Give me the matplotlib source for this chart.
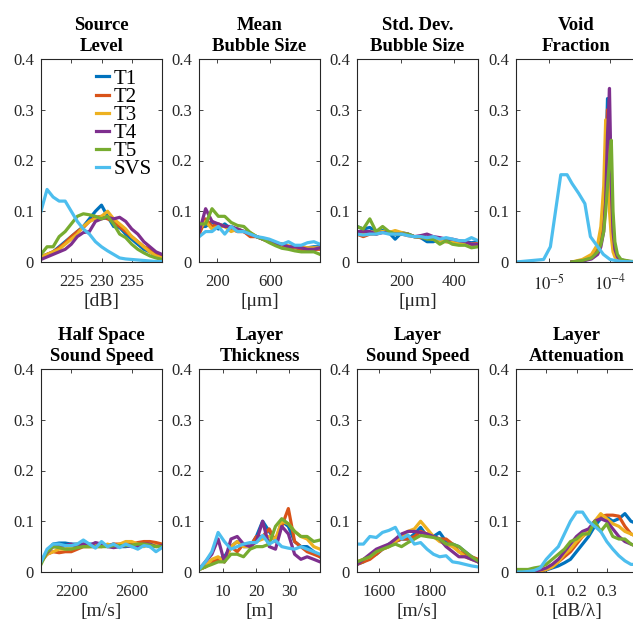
import numpy as np
import matplotlib
matplotlib.use("Agg")
from matplotlib import pyplot as plt

plt.rcParams['font.family'] = ['Liberation Serif', 'DejaVu Serif']
plt.rcParams['mathtext.fontset'] = 'stix'

names = ["T1", "T2", "T3", "T4", "T5", "SVS"]
colors = ["#0072BD", "#D95319", "#EDB120", "#7E2F8E", "#77AC30", "#4DBEEE"]

titles = ["Source\nLevel", "Mean\nBubble Size", "Std. Dev.\nBubble Size", "Void\nFraction",
          "Half Space\nSound Speed", "Layer\nThickness", "Layer\nSound Speed", "Layer\nAttenuation"]
xlabels = ["[dB]", "[\u03bcm]", "[\u03bcm]", "", "[m/s]", "[m]", "[m/s]", "[dB/\u03bb]"]

# source level
sl_x = [220, 221, 222, 223, 224, 225, 226, 227, 228, 229, 230, 231, 232, 233, 234, 235, 236, 237, 238, 239, 240]
sl_y = [
    [0.01, 0.015, 0.02, 0.03, 0.04, 0.05, 0.06, 0.07, 0.085, 0.1, 0.112, 0.09, 0.07, 0.068, 0.055, 0.045, 0.035, 0.025, 0.02, 0.012, 0.007],
    [0.01, 0.015, 0.02, 0.028, 0.038, 0.05, 0.06, 0.068, 0.08, 0.088, 0.09, 0.085, 0.08, 0.07, 0.06, 0.05, 0.04, 0.03, 0.025, 0.018, 0.01],
    [0.01, 0.015, 0.02, 0.025, 0.035, 0.045, 0.055, 0.07, 0.08, 0.085, 0.09, 0.1, 0.085, 0.075, 0.065, 0.05, 0.04, 0.03, 0.02, 0.012, 0.008],
    [0.005, 0.01, 0.015, 0.02, 0.025, 0.035, 0.05, 0.058, 0.06, 0.08, 0.085, 0.088, 0.085, 0.088, 0.08, 0.065, 0.055, 0.04, 0.03, 0.02, 0.015],
    [0.015, 0.03, 0.03, 0.05, 0.06, 0.075, 0.09, 0.095, 0.093, 0.09, 0.085, 0.09, 0.075, 0.055, 0.048, 0.035, 0.025, 0.018, 0.012, 0.008, 0.005],
    [0.1, 0.143, 0.128, 0.12, 0.12, 0.1, 0.08, 0.065, 0.055, 0.04, 0.03, 0.022, 0.015, 0.008, 0.006, 0.005, 0.004, 0.003, 0.002, 0.001, 0.001],
]

# mean bubble size
mb_x = [65, 113, 161, 209, 257, 305, 353, 401, 449, 497, 545, 593, 641, 689, 737, 785, 833, 881, 929, 975]
mb_y = [
    [0.07, 0.07, 0.08, 0.065, 0.075, 0.065, 0.065, 0.06, 0.055, 0.05, 0.045, 0.04, 0.035, 0.035, 0.03, 0.03, 0.03, 0.028, 0.03, 0.03],
    [0.055, 0.085, 0.07, 0.075, 0.07, 0.065, 0.06, 0.06, 0.05, 0.05, 0.045, 0.04, 0.038, 0.033, 0.03, 0.028, 0.025, 0.025, 0.025, 0.025],
    [0.065, 0.08, 0.065, 0.07, 0.07, 0.06, 0.065, 0.06, 0.058, 0.05, 0.045, 0.04, 0.038, 0.035, 0.032, 0.03, 0.03, 0.028, 0.028, 0.028],
    [0.06, 0.105, 0.08, 0.075, 0.07, 0.07, 0.065, 0.06, 0.055, 0.05, 0.045, 0.04, 0.035, 0.035, 0.03, 0.03, 0.028, 0.025, 0.025, 0.028],
    [0.075, 0.075, 0.105, 0.09, 0.09, 0.078, 0.072, 0.07, 0.058, 0.05, 0.045, 0.038, 0.032, 0.027, 0.025, 0.022, 0.02, 0.02, 0.02, 0.015],
    [0.05, 0.06, 0.06, 0.07, 0.055, 0.07, 0.06, 0.06, 0.055, 0.05, 0.048, 0.045, 0.04, 0.035, 0.04, 0.033, 0.033, 0.038, 0.04, 0.035],
]

# std. dev. bubble size
sd_x = [30, 54, 79, 103, 128, 152, 176, 201, 225, 249, 274, 298, 322, 347, 371, 395, 420, 444, 468, 493]
sd_y = [
    [0.07, 0.065, 0.068, 0.06, 0.062, 0.058, 0.045, 0.058, 0.055, 0.05, 0.048, 0.04, 0.04, 0.045, 0.045, 0.04, 0.04, 0.04, 0.038, 0.04],
    [0.055, 0.05, 0.055, 0.055, 0.06, 0.058, 0.06, 0.055, 0.052, 0.05, 0.048, 0.048, 0.045, 0.043, 0.04, 0.04, 0.04, 0.038, 0.035, 0.037],
    [0.06, 0.058, 0.06, 0.058, 0.06, 0.058, 0.062, 0.058, 0.055, 0.05, 0.05, 0.048, 0.045, 0.042, 0.04, 0.04, 0.038, 0.038, 0.035, 0.035],
    [0.06, 0.06, 0.06, 0.055, 0.058, 0.058, 0.055, 0.055, 0.055, 0.05, 0.052, 0.055, 0.05, 0.048, 0.045, 0.045, 0.042, 0.04, 0.035, 0.035],
    [0.07, 0.065, 0.085, 0.06, 0.07, 0.06, 0.055, 0.055, 0.055, 0.05, 0.05, 0.045, 0.045, 0.035, 0.042, 0.035, 0.033, 0.033, 0.028, 0.03],
    [0.055, 0.053, 0.055, 0.055, 0.058, 0.055, 0.055, 0.055, 0.052, 0.05, 0.05, 0.048, 0.05, 0.045, 0.048, 0.045, 0.042, 0.042, 0.048, 0.042],
]

# void fraction (log x)
vf_x = [2.4e-5, 3.55e-5, 5.0e-5, 6.3e-5, 7.1e-5, 7.9e-5, 8.5e-5, 9.1e-5, 9.8e-5, 1.05e-4, 1.12e-4, 1.2e-4, 1.32e-4, 1.51e-4, 2.0e-4, 2.75e-4]
vf_y = [
    [0, 0.002, 0.008, 0.02, 0.04, 0.08, 0.18, 0.322, 0.2, 0.1, 0.04, 0.02, 0.01, 0.004, 0.001, 0],
    [0, 0.002, 0.01, 0.025, 0.05, 0.1, 0.2, 0.3, 0.15, 0.08, 0.03, 0.015, 0.008, 0.003, 0.001, 0],
    [0, 0.005, 0.015, 0.035, 0.07, 0.15, 0.28, 0.2, 0.1, 0.05, 0.02, 0.01, 0.005, 0.002, 0.001, 0],
    [0, 0.002, 0.006, 0.015, 0.03, 0.06, 0.12, 0.25, 0.342, 0.15, 0.06, 0.025, 0.01, 0.004, 0.001, 0],
    [0, 0.003, 0.008, 0.02, 0.035, 0.06, 0.1, 0.15, 0.2, 0.24, 0.1, 0.04, 0.015, 0.005, 0.002, 0],
]
vf_svs_x = [2.95e-6, 8.3e-6, 1.07e-5, 1.58e-5, 2.0e-5, 2.4e-5, 3.1e-5, 3.9e-5, 4.8e-5, 6.5e-5, 7.8e-5, 1.0e-4, 1.5e-4, 2.75e-4]
vf_svs_y = [0, 0.005, 0.03, 0.172, 0.172, 0.155, 0.135, 0.115, 0.05, 0.028, 0.015, 0.005, 0.001, 0]

# half space sound speed
hs_x = [2000, 2040, 2080, 2120, 2160, 2200, 2240, 2280, 2320, 2360, 2400, 2440, 2480, 2520, 2560, 2600, 2640, 2680, 2720, 2760, 2800]
hs_y = [
    [0.02, 0.04, 0.055, 0.057, 0.057, 0.055, 0.055, 0.055, 0.055, 0.055, 0.055, 0.052, 0.055, 0.05, 0.05, 0.052, 0.05, 0.055, 0.05, 0.052, 0.05],
    [0.02, 0.035, 0.04, 0.038, 0.04, 0.04, 0.045, 0.05, 0.05, 0.05, 0.05, 0.052, 0.055, 0.055, 0.055, 0.055, 0.058, 0.06, 0.06, 0.058, 0.055],
    [0.02, 0.035, 0.04, 0.045, 0.045, 0.05, 0.055, 0.05, 0.05, 0.055, 0.05, 0.055, 0.05, 0.055, 0.06, 0.06, 0.055, 0.05, 0.055, 0.052, 0.05],
    [0.02, 0.038, 0.05, 0.05, 0.052, 0.055, 0.05, 0.055, 0.052, 0.058, 0.055, 0.05, 0.048, 0.05, 0.052, 0.05, 0.052, 0.055, 0.055, 0.05, 0.052],
    [0.015, 0.04, 0.05, 0.048, 0.045, 0.045, 0.048, 0.05, 0.05, 0.05, 0.05, 0.05, 0.052, 0.052, 0.052, 0.053, 0.055, 0.055, 0.053, 0.05, 0.05],
    [0.02, 0.045, 0.055, 0.055, 0.052, 0.052, 0.055, 0.063, 0.055, 0.047, 0.06, 0.05, 0.055, 0.048, 0.055, 0.05, 0.045, 0.052, 0.05, 0.04, 0.048],
]

# layer thickness
lt_x = [2.7, 4.6, 6.6, 8.5, 10.4, 12.4, 14.3, 16.2, 18.2, 20.1, 22.0, 24.0, 25.9, 27.8, 29.8, 31.7, 33.6, 35.5, 37.5, 39.4]
lt_y = [
    [0.005, 0.01, 0.02, 0.025, 0.03, 0.05, 0.06, 0.05, 0.05, 0.07, 0.1, 0.08, 0.06, 0.1, 0.09, 0.06, 0.05, 0.05, 0.04, 0.03],
    [0.005, 0.01, 0.02, 0.025, 0.02, 0.05, 0.04, 0.055, 0.05, 0.07, 0.07, 0.085, 0.06, 0.09, 0.125, 0.06, 0.05, 0.04, 0.035, 0.03],
    [0.005, 0.01, 0.025, 0.03, 0.02, 0.05, 0.06, 0.05, 0.05, 0.06, 0.065, 0.07, 0.065, 0.1, 0.095, 0.08, 0.07, 0.065, 0.05, 0.045],
    [0.005, 0.02, 0.035, 0.065, 0.02, 0.065, 0.07, 0.055, 0.05, 0.06, 0.1, 0.05, 0.045, 0.09, 0.075, 0.035, 0.025, 0.03, 0.025, 0.02],
    [0.005, 0.01, 0.015, 0.02, 0.02, 0.035, 0.035, 0.03, 0.045, 0.05, 0.05, 0.055, 0.09, 0.105, 0.095, 0.08, 0.07, 0.07, 0.06, 0.063],
    [0.005, 0.02, 0.04, 0.078, 0.06, 0.045, 0.05, 0.055, 0.058, 0.058, 0.072, 0.055, 0.062, 0.05, 0.047, 0.045, 0.05, 0.045, 0.04, 0.035],
]

# layer sound speed
ls_x = [1515, 1540, 1565, 1590, 1614, 1639, 1664, 1688, 1713, 1738, 1762, 1787, 1812, 1836, 1861, 1886, 1911, 1935, 1960, 1985]
ls_y = [
    [0.015, 0.02, 0.03, 0.035, 0.045, 0.055, 0.06, 0.065, 0.065, 0.075, 0.088, 0.07, 0.07, 0.078, 0.06, 0.055, 0.05, 0.04, 0.03, 0.02],
    [0.015, 0.02, 0.025, 0.035, 0.045, 0.05, 0.06, 0.065, 0.065, 0.07, 0.08, 0.075, 0.07, 0.065, 0.065, 0.055, 0.04, 0.035, 0.03, 0.025],
    [0.02, 0.025, 0.03, 0.04, 0.045, 0.05, 0.06, 0.07, 0.08, 0.085, 0.1, 0.085, 0.07, 0.06, 0.055, 0.05, 0.04, 0.03, 0.025, 0.02],
    [0.015, 0.025, 0.035, 0.045, 0.05, 0.055, 0.065, 0.075, 0.08, 0.08, 0.078, 0.075, 0.07, 0.065, 0.05, 0.04, 0.03, 0.03, 0.025, 0.02],
    [0.02, 0.025, 0.03, 0.04, 0.045, 0.05, 0.055, 0.05, 0.058, 0.065, 0.072, 0.07, 0.068, 0.065, 0.055, 0.055, 0.05, 0.04, 0.03, 0.022],
    [0.055, 0.055, 0.07, 0.068, 0.078, 0.082, 0.088, 0.065, 0.073, 0.055, 0.058, 0.045, 0.035, 0.03, 0.032, 0.02, 0.018, 0.015, 0.012, 0.01],
]

# layer attenuation
la_x = [0, 0.02, 0.04, 0.06, 0.08, 0.10, 0.12, 0.14, 0.16, 0.18, 0.20, 0.22, 0.24, 0.26, 0.28, 0.30, 0.32, 0.34, 0.36, 0.38, 0.40]
la_y = [
    [0, 0, 0, 0.001, 0.002, 0.004, 0.008, 0.012, 0.018, 0.025, 0.04, 0.055, 0.07, 0.09, 0.105, 0.108, 0.1, 0.105, 0.115, 0.1, 0.095],
    [0, 0, 0, 0.001, 0.002, 0.005, 0.01, 0.02, 0.03, 0.04, 0.055, 0.07, 0.08, 0.1, 0.11, 0.112, 0.112, 0.11, 0.09, 0.075, 0.07],
    [0, 0, 0, 0.001, 0.003, 0.005, 0.01, 0.02, 0.035, 0.045, 0.06, 0.07, 0.08, 0.1, 0.115, 0.105, 0.095, 0.09, 0.08, 0.075, 0.07],
    [0, 0, 0.001, 0.002, 0.004, 0.008, 0.015, 0.025, 0.04, 0.055, 0.07, 0.08, 0.085, 0.1, 0.105, 0.1, 0.085, 0.07, 0.06, 0.055, 0.05],
    [0.005, 0.005, 0.005, 0.008, 0.01, 0.015, 0.025, 0.035, 0.045, 0.06, 0.065, 0.075, 0.075, 0.1, 0.08, 0.095, 0.07, 0.065, 0.065, 0.055, 0.05],
    [0, 0, 0.001, 0.003, 0.008, 0.025, 0.038, 0.05, 0.075, 0.1, 0.118, 0.118, 0.1, 0.09, 0.08, 0.06, 0.045, 0.032, 0.022, 0.015, 0.015],
]

xlims = [(220, 240), (63, 975), (30, 493), (2.95e-6, 2.75e-4), (2000, 2800), (2.7, 39.4), (1515, 1985), (0, 0.4)]
xticks = [[225, 230, 235], [200, 600], [200, 400], [1e-5, 1e-4], [2200, 2600], [10, 20, 30], [1600, 1800], [0.1, 0.2, 0.3]]
xticklabels = [["225", "230", "235"], ["200", "600"], ["200", "400"], ["$10^{-5}$", "$10^{-4}$"],
               ["2200", "2600"], ["10", "20", "30"], ["1600", "1800"], ["0.1", "0.2", "0.3"]]

fig = plt.figure(figsize=(6.33, 6.19), dpi=100)
W, H = 633, 619
lefts = [41, 199, 357, 516]
rows = [(59, 262), (369, 572)]

for i in range(8):
    r, c = divmod(i, 4)
    top, bot = rows[r]
    ax = fig.add_axes([lefts[c] / W, 1 - bot / H, 121 / W, (bot - top) / H])
    if i == 0:
        series = [(sl_x, y) for y in sl_y]
    elif i == 1:
        series = [(mb_x, y) for y in mb_y]
    elif i == 2:
        series = [(sd_x, y) for y in sd_y]
    elif i == 3:
        series = [(vf_x, y) for y in vf_y] + [(vf_svs_x, vf_svs_y)]
        ax.set_xscale("log")
    elif i == 4:
        series = [(hs_x, y) for y in hs_y]
    elif i == 5:
        series = [(lt_x, y) for y in lt_y]
    elif i == 6:
        series = [(ls_x, y) for y in ls_y]
    else:
        series = [(la_x, y) for y in la_y]
    for k, (x, y) in enumerate(series):
        ax.plot(x, y, color=colors[k], lw=2.3, label=names[k])
    ax.set_xlim(*xlims[i])
    ax.set_ylim(0, 0.4)
    ax.set_yticks([0, 0.1, 0.2, 0.3, 0.4])
    ax.set_yticklabels(["0", "0.1", "0.2", "0.3", "0.4"])
    ax.minorticks_off()
    ax.set_xticks(xticks[i])
    ax.set_xticklabels(xticklabels[i])
    ax.tick_params(direction="in", top=True, right=True, labelsize=12, length=3, width=0.6, colors="#262626")
    ax.tick_params(axis="x", pad=8.5)
    ax.tick_params(axis="y", pad=5)
    for s in ax.spines.values():
        s.set_linewidth(0.8)
        s.set_color("#262626")
    ax.set_title(titles[i], fontsize=13.5, fontweight="bold", linespacing=1.3, pad=6)
    if xlabels[i]:
        ax.set_xlabel(xlabels[i], fontsize=14, labelpad=2, color="#262626")
    if i == 0:
        ax.legend(loc="upper left", bbox_to_anchor=(0.455, 0.95), frameon=False, fontsize=15,
                  handlelength=0.63, handletextpad=0.2, labelspacing=-0.07,
                  borderaxespad=0, borderpad=0)

fig.savefig("out.png", dpi=100)
